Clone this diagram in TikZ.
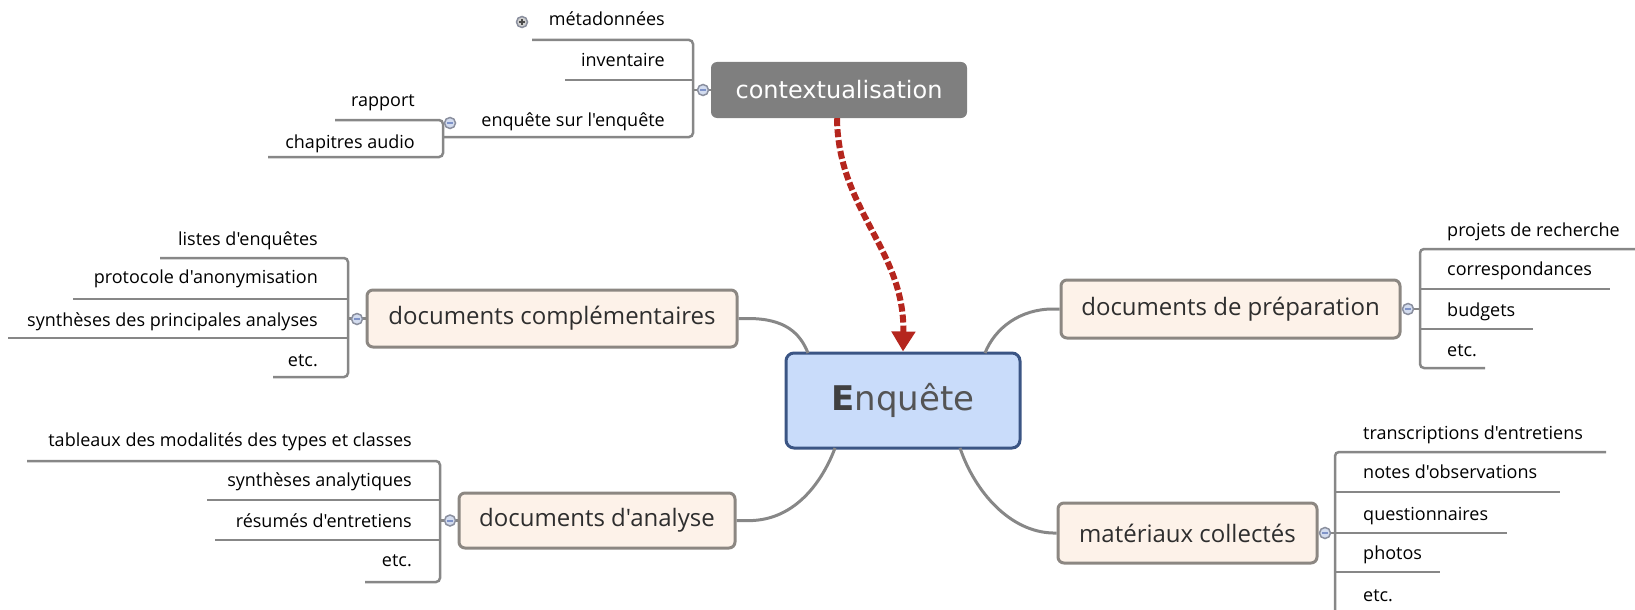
\documentclass[tikz,border=0pt]{standalone}
\usepackage{fontspec}
\setmainfont{Open Sans}[Ligatures=TeXOff]
\newfontfamily\dvs{DejaVu Sans}
\usetikzlibrary{arrows.meta}
\definecolor{lnc}{HTML}{878787}
\definecolor{boxfill}{HTML}{FDF2E9}
\definecolor{boxdraw}{HTML}{8C8782}
\definecolor{enqfill}{HTML}{C9DCFA}
\definecolor{enqdraw}{HTML}{3B5584}
\definecolor{ctxfill}{HTML}{7F7F7F}
\definecolor{arr}{HTML}{B5261E}
\definecolor{icf}{HTML}{D3DCEF}
\definecolor{icd}{HTML}{8A8F9E}
\definecolor{icm}{HTML}{7F93C8}
\definecolor{txt}{HTML}{000000}
\definecolor{btxt}{HTML}{2E2E2E}
\tikzset{
  lt/.style={inner sep=0pt, font=\fontsize{18}{20}\selectfont, text=txt},
  ul/.style={draw=lnc, line width=2.5pt, rounded corners=4pt},
  conn/.style={draw=lnc, line width=3pt},
  branch/.style={rectangle, rounded corners=6pt, draw=boxdraw, fill=boxfill, line width=3pt, text=btxt, font=\fontsize{24}{28}\selectfont, inner sep=0pt},
  enqbox/.style={rectangle, rounded corners=8pt, draw=enqdraw, fill=enqfill, line width=3pt, inner sep=0pt},
  ctxbox/.style={rectangle, rounded corners=6pt, fill=ctxfill, text=white, font=\dvs\fontsize{24}{28}\selectfont, inner sep=0pt},
  arrowst/.style={draw=arr, line width=6pt, dash pattern=on 8pt off 3pt, -{Triangle[length=20pt,width=23pt]}},
  icmin/.pic={\draw[icd, fill=icf, line width=1.5pt] (0,0) circle (5.5pt); \draw[icm, line width=2pt] (-3pt,0) -- (3pt,0);},
  icplus/.pic={\draw[icd, fill=gray!35, line width=1.5pt] (0,0) circle (5.5pt); \draw[black!70, line width=1.4pt] (-3pt,0) -- (3pt,0) (0,-3pt) -- (0,3pt);}
}
\begin{document}
\begin{tikzpicture}[x=1pt,y=-1pt]
\useasboundingbox (0,0) rectangle (1635,610);

% main boxes
\node[enqbox, minimum width=234pt, minimum height=95pt] (enq) at (903,400.5)
  {\dvs\fontsize{34}{40}\selectfont\color{black!67}{\bfseries\color{black!75}E}nquête};
\node[ctxbox, minimum width=256pt, minimum height=56pt] (ctx) at (839,90) {contextualisation};
\node[branch, minimum width=370pt, minimum height=57pt] (compl) at (552,318.5) {documents complémentaires};
\node[branch, minimum width=339pt, minimum height=58pt] (prep) at (1230.5,309) {documents de préparation};
\node[branch, minimum width=276pt, minimum height=55pt] (anal) at (597,520.5) {documents d'analyse};
\node[branch, minimum width=259pt, minimum height=60pt] (mat) at (1187.5,533) {matériaux collectés};

% attachment points on the central box
\coordinate (eNW) at (808,353);
\coordinate (eNE) at (985,353);
\coordinate (eSW) at (835,448);
\coordinate (eSE) at (960,448);

% curvy connectors
\draw[conn] (compl.east) -- (748,318.5) .. controls (785,318.5) and (800,333) .. (eNW);
\draw[conn] (prep.west) -- (1053,309) .. controls (1020,309) and (995,328) .. (eNE);
\draw[conn] (anal.east) -- (753,520.5) .. controls (800,518) and (825,475) .. (eSW);
\draw[conn] (mat.west) -- (1053,533) .. controls (1010,532) and (975,492) .. (eSE);

% red dashed arrow
\draw[arrowst] ([xshift=-2pt]ctx.south) .. controls (838,210) and (905,250) .. (enq.north);

% contextualisation subtree
\node[lt, anchor=mid east] (meta) at (665,23) {métadonnées};
\node[lt, anchor=mid east] (inv) at (665,64) {inventaire};
\node[lt, anchor=mid east] (ese) at (665,124) {enquête sur l'enquête};
\draw[ul] (532,40) -- (693,40) -- (693,137) -- (443,137);
\draw[ul] (565,80) -- (693,80);
\coordinate (bkX) at (693,90);
\draw[ul] (bkX) -- (ctx.west);
\node[lt, anchor=mid east] (rap) at (415,104) {rapport};
\node[lt, anchor=mid east] (cha) at (415,146) {chapitres audio};
\draw[ul] (335,120) -- (443,120) -- (443,157) -- (268,157);
\pic at (703,90) {icmin};
\pic at (450,123) {icmin};
\pic at (522,22) {icplus};

% documents complementaires subtree
\node[lt, anchor=mid east] (c1) at (318,243) {listes d'enquêtes};
\node[lt, anchor=mid east] (c2) at (318,281) {protocole d'anonymisation};
\node[lt, anchor=mid east] (c3) at (318,324) {synthèses des principales analyses};
\node[lt, anchor=mid east] (c4) at (318,364) {etc.};
\draw[ul] (160,258) -- (348,258) -- (348,377) -- (273,377);
\draw[ul] (73,299) -- (348,299);
\draw[ul] (8,338) -- (348,338);
\coordinate (bkC) at (348,318.5);
\draw[ul] (bkC) -- (compl.west);
\pic at (357,319) {icmin};

% documents d'analyse subtree
\node[lt, anchor=mid east] (a1) at (412,444) {tableaux des modalités des types et classes};
\node[lt, anchor=mid east] (a2) at (412,484) {synthèses analytiques};
\node[lt, anchor=mid east] (a3) at (412,525) {résumés d'entretiens};
\node[lt, anchor=mid east] (a4) at (412,564) {etc.};
\draw[ul] (27,461) -- (440,461) -- (440,582) -- (365,582);
\draw[ul] (207,500) -- (440,500);
\draw[ul] (215,540) -- (440,540);
\coordinate (bkA) at (440,520.5);
\draw[ul] (bkA) -- (anal.west);
\pic at (450,520.5) {icmin};

% documents de preparation subtree
\node[lt, anchor=mid west] (p1) at (1447,234) {projets de recherche};
\node[lt, anchor=mid west] (p2) at (1447,273) {correspondances};
\node[lt, anchor=mid west] (p3) at (1447,314) {budgets};
\node[lt, anchor=mid west] (p4) at (1447,354) {etc.};
\draw[ul] (1640,249) -- (1420,249) -- (1420,368) -- (1485,368);
\draw[ul] (1420,289) -- (1610,289);
\draw[ul] (1420,329) -- (1533,329);
\coordinate (bkP) at (1420,309);
\draw[ul] (prep.east) -- (bkP);
\pic at (1408,309) {icmin};

% materiaux collectes subtree
\node[lt, anchor=mid west] (m1) at (1363,437) {transcriptions d'entretiens};
\node[lt, anchor=mid west] (m2) at (1363,476) {notes d'observations};
\node[lt, anchor=mid west] (m3) at (1363,518) {questionnaires};
\node[lt, anchor=mid west] (m4) at (1363,557) {photos};
\node[lt, anchor=mid west] (m5) at (1363,599) {etc.};
\draw[ul] (1606,452) -- (1335,452) -- (1335,616) -- (1400,616);
\draw[ul] (1335,492) -- (1560,492);
\draw[ul] (1335,572) -- (1440,572);
\coordinate (bkM) at (1335,533);
\draw[ul] (mat.east) -- (bkM) -- (1507,533);
\pic at (1325,533) {icmin};
\end{tikzpicture}
\end{document}
